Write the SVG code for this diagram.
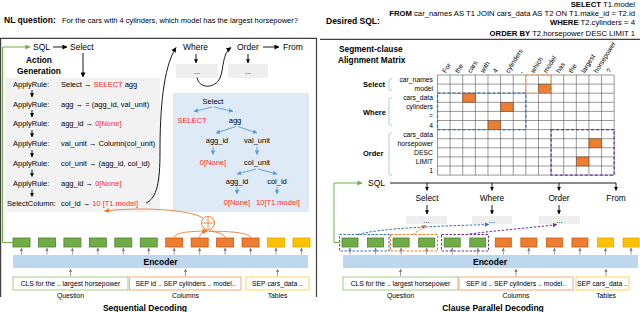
<svg xmlns="http://www.w3.org/2000/svg" width="640" height="312" viewBox="0 0 640 312">
<defs>
<style>
text{font-family:"Liberation Sans",Arial,sans-serif;fill:#000}
.b{font-weight:bold}
.red{fill:#ff2b2b}
.s75{font-size:7.5px}
.sq{font-size:7.7px}
.s7{font-size:6.8px}
.s85{font-size:8.5px}
.mid{text-anchor:middle}
.end{text-anchor:end}
.g{fill:#70ad47;stroke:#507e32;stroke-width:0.8}
.o{fill:#ed7d31;stroke:#c55a11;stroke-width:0.8}
.y{fill:#ffc000;stroke:#e0a800;stroke-width:0.8}
.enc{fill:#bdd7ee}
.dots{fill:#eeeeee}
.ln{stroke:#000;stroke-width:0.9;fill:none}
.gr{stroke:#808080;stroke-width:0.8;fill:none}
.bl{stroke:#5b9bd5;stroke-width:0.9;fill:none}
.or{stroke:#ed7d31;stroke-width:0.9;fill:none}
.grn{stroke:#70ad47;stroke-width:1;fill:none}
.grid{stroke:#555;stroke-width:0.6}
.cell{fill:#ed7d31;stroke:#c55a11;stroke-width:0.6}
.brk{stroke:#9dc3e6;stroke-width:0.9;fill:none}
</style>
<marker id="ak" viewBox="0 0 6 6" refX="5.5" refY="3" markerWidth="5" markerHeight="5" markerUnits="userSpaceOnUse" orient="auto"><path d="M0,0L6,3L0,6z" fill="#000"/></marker>
<marker id="aks" viewBox="0 0 6 6" refX="5.5" refY="3" markerWidth="4" markerHeight="4" markerUnits="userSpaceOnUse" orient="auto"><path d="M0,0L6,3L0,6z" fill="#000"/></marker>
<marker id="ag" viewBox="0 0 6 6" refX="5.5" refY="3" markerWidth="5" markerHeight="5" markerUnits="userSpaceOnUse" orient="auto"><path d="M0,0L6,3L0,6z" fill="#70ad47"/></marker>
<marker id="ab" viewBox="0 0 6 6" refX="5.5" refY="3" markerWidth="4.5" markerHeight="4.5" markerUnits="userSpaceOnUse" orient="auto"><path d="M0,0L6,3L0,6z" fill="#5b9bd5"/></marker>
<marker id="ao" viewBox="0 0 6 6" refX="5.5" refY="3" markerWidth="5" markerHeight="5" markerUnits="userSpaceOnUse" orient="auto"><path d="M0,0L6,3L0,6z" fill="#ed7d31"/></marker>
<marker id="agr" viewBox="0 0 6 6" refX="5.5" refY="3" markerWidth="3.5" markerHeight="3.5" markerUnits="userSpaceOnUse" orient="auto"><path d="M0,0L6,3L0,6z" fill="#808080"/></marker>
<marker id="adb" viewBox="0 0 6 6" refX="5.5" refY="3" markerWidth="4.5" markerHeight="4.5" markerUnits="userSpaceOnUse" orient="auto"><path d="M0,0L6,3L0,6z" fill="#2e75b6"/></marker>
<marker id="ap" viewBox="0 0 6 6" refX="5.5" refY="3" markerWidth="4.5" markerHeight="4.5" markerUnits="userSpaceOnUse" orient="auto"><path d="M0,0L6,3L0,6z" fill="#7030a0"/></marker>
</defs>
<rect width="640" height="312" fill="#fff"/>

<!-- Header -->
<g id="header">
<text x="4" y="23" class="b s85">NL question:</text>
<text x="62" y="23" style="font-size:7.5px">For the cars with 4 cylinders, which model has the largest horsepower?</text>
<text x="326" y="24" class="b s85">Desired SQL:</text>
<text x="635" y="6.5" class="end sq"><tspan class="b">SELECT</tspan> T1.model</text>
<text x="635" y="15.5" class="end sq"><tspan class="b">FROM</tspan> car_names AS T1 JOIN cars_data AS T2 ON T1.make_id = T2.id</text>
<text x="635" y="25" class="end sq"><tspan class="b">WHERE</tspan> T2.cylinders = 4</text>
<text x="635" y="36" class="end sq"><tspan class="b">ORDER BY</tspan> T2.horsepower DESC LIMIT 1</text>
</g>

<!-- Panel frames -->
<g id="frames" stroke="#404040" stroke-width="1.2" fill="none">
<path d="M0.6,297 V38.4 H316.5 V297"/>
<path d="M320,39.4 H640"/>
</g>

<!-- ============ LEFT PANEL: Sequential Decoding ============ -->
<g id="action-generation">
<rect x="5" y="78" width="155" height="134" fill="#f2f2f2"/>
<text x="39" y="63" class="b mid" style="font-size:8.3px">Action</text>
<text x="39" y="74" class="b mid" style="font-size:8.3px">Generation</text>
<g class="s75">
<text x="13" y="86.7">ApplyRule:</text><text x="61" y="86.7">Select → <tspan class="red">SELECT</tspan> agg</text>
<text x="13" y="106.5">ApplyRule:</text><text x="61" y="106.5">agg → = (agg_id, val_unit)</text>
<text x="13" y="126.4">ApplyRule:</text><text x="61" y="126.4">agg_id → <tspan class="red">0[None]</tspan></text>
<text x="13" y="146.2">ApplyRule:</text><text x="61" y="146.2">val_unit → Column(col_unit)</text>
<text x="13" y="166">ApplyRule:</text><text x="61" y="166">col_unit → (agg_id, col_id)</text>
<text x="13" y="185.9">ApplyRule:</text><text x="61" y="185.9">agg_id → <tspan class="red">0[None]</tspan></text>
<text x="7" y="205.7">SelectColumn:</text><text x="61" y="205.7">col_id → <tspan class="red">10 [T1.model]</tspan></text>
</g>
</g>

<g id="left-top-sql">
<text x="33" y="50" class="s85">SQL</text>
<text x="70" y="50" class="s85">Select</text>
<text x="183" y="50" class="s85">Where</text>
<text x="237" y="50" class="s85">Order</text>
<text x="283" y="50" class="s85">From</text>
<rect x="176" y="64" width="42" height="14" class="dots"/>
<text x="197" y="74" class="mid s75">...</text>
<rect x="228" y="64" width="40" height="14" class="dots"/>
<text x="248" y="74" class="mid s75">...</text>
</g>

<g id="ast-tree">
<rect x="173" y="93" width="136" height="119" fill="#deebf7"/>
<g class="s75">
<text x="213" y="103.7" class="mid">Select</text>
<text x="192" y="123" class="mid red">SELECT</text>
<text x="235" y="123" class="mid">agg</text>
<text x="217" y="143" class="mid">agg_id</text>
<text x="257" y="143" class="mid">val_unit</text>
<text x="213" y="165" class="mid red">0[None]</text>
<text x="257" y="165" class="mid">col_unit</text>
<text x="237" y="183.5" class="mid">agg_id</text>
<text x="277" y="183.5" class="mid">col_id</text>
<text x="237" y="205" class="mid red">0[None]</text>
<text x="278" y="205" class="mid red">10[T1.model]</text>
</g>
</g>

<g id="left-encoder">
<rect x="13" y="255" width="295" height="13" class="enc"/>
<text x="160.5" y="264.5" class="b mid s85">Encoder</text>
<rect x="13" y="277" width="115" height="13" fill="#fff" stroke="#a9d18e" stroke-width="1.1"/>
<text x="70.5" y="286" class="mid s7">CLS for the .. largest horsepower</text>
<rect x="129.5" y="277" width="111.5" height="13" fill="#fff" stroke="#f4b183" stroke-width="1.1"/>
<text x="185.5" y="286" class="mid s7">SEP id .. SEP cylinders .. model..</text>
<rect x="246" y="277" width="63" height="13" fill="#fff" stroke="#ffd966" stroke-width="1.1"/>
<text x="277.5" y="286" class="mid s7">SEP cars_data ..</text>
<text x="70.5" y="298" class="mid s7">Question</text>
<text x="185.5" y="298" class="mid s7">Columns</text>
<text x="277.5" y="298" class="mid s7">Tables</text>
<text x="145" y="310.5" class="b mid s85">Sequential Decoding</text>
</g>

<g id="left-tokens">
<rect x="13" y="238" width="17" height="9" class="g"/>
<rect x="38.45" y="238" width="17" height="9" class="g"/>
<rect x="63.9" y="238" width="17" height="9" class="g"/>
<rect x="89.35" y="238" width="17" height="9" class="g"/>
<rect x="114.8" y="238" width="17" height="9" class="g"/>
<rect x="140.25" y="238" width="17" height="9" class="g"/>
<rect x="165.7" y="238" width="17" height="9" class="o"/>
<rect x="191.15" y="238" width="17" height="9" class="o"/>
<rect x="216.6" y="238" width="17" height="9" class="o"/>
<rect x="242.05" y="238" width="17" height="9" class="o"/>
<rect x="267.5" y="238" width="17" height="9" class="y"/>
<rect x="292.95" y="238" width="17" height="9" class="y"/>
</g>

<g id="pointer">
<circle cx="208" cy="223" r="6.5" fill="#fff" stroke="#ed7d31" stroke-width="1"/>
<path d="M208,217.5V228.5M202.5,223H213.5" stroke="#ed7d31" stroke-width="0.9"/>
</g>

<!-- ============ RIGHT PANEL: Clause Parallel Decoding ============ -->
<g id="matrix">
<text x="339" y="52" class="b" style="font-size:8.3px">Segment-clause</text>
<text x="338" y="63" class="b" style="font-size:8.3px">Alignment Matrix</text>
<g class="s7">
<text transform="translate(445.8,73.5) rotate(-58)">For</text>
<text transform="translate(458.4,73.5) rotate(-58)">the</text>
<text transform="translate(471,73.5) rotate(-58)">cars</text>
<text transform="translate(483.7,73.5) rotate(-58)">with</text>
<text transform="translate(496.3,73.5) rotate(-58)">4</text>
<text transform="translate(508.9,73.5) rotate(-58)">cylinders</text>
<text transform="translate(521.5,73.5) rotate(-58)">,</text>
<text transform="translate(534.1,73.5) rotate(-58)">which</text>
<text transform="translate(546.8,73.5) rotate(-58)">model</text>
<text transform="translate(559.4,73.5) rotate(-58)">has</text>
<text transform="translate(572,73.5) rotate(-58)">the</text>
<text transform="translate(584.6,73.5) rotate(-58)">largest</text>
<text transform="translate(597.2,73.5) rotate(-58)">horsepower</text>
<text transform="translate(609.9,73.5) rotate(-58)">?</text>
</g>
<g class="s7 end">
<text x="433" y="82">car_names</text>
<text x="433" y="91.1">model</text>
<text x="433" y="100.2">cars_data</text>
<text x="433" y="109.3">cylinders</text>
<text x="433" y="118.4">=</text>
<text x="433" y="127.5">4</text>
<text x="433" y="136.6">cars_data</text>
<text x="433" y="145.7">horsepower</text>
<text x="433" y="154.8">DESC</text>
<text x="433" y="163.9">LIMIT</text>
<text x="433" y="173">1</text>
</g>
<g class="b" style="font-size:7.5px">
<text x="363" y="87">Select</text>
<text x="363" y="115">Where</text>
<text x="363" y="156">Order</text>
</g>
<path class="brk" d="M392,79 H390.5 Q389,79 389,80.5 V88.5 Q389,90 390.5,90 H392"/>
<path class="brk" d="M392,98 H390.5 Q389,98 389,99.5 V123.5 Q389,125 390.5,125 H392"/>
<path class="brk" d="M392,133 H390.5 Q389,133 389,134.5 V173.5 Q389,175 390.5,175 H392"/>
<g>
<rect x="538.46" y="84.1" width="12.62" height="9.1" class="cell"/>
<rect x="462.74" y="93.2" width="12.62" height="9.1" class="cell"/>
<rect x="500.6" y="102.3" width="12.62" height="9.1" class="cell"/>
<rect x="487.98" y="120.5" width="12.62" height="9.1" class="cell"/>
<rect x="588.94" y="138.7" width="12.62" height="9.1" class="cell"/>
<rect x="576.32" y="156.9" width="12.62" height="9.1" class="cell"/>
</g>
<g class="grid">
<path d="M437.5,75H614.18M437.5,84.1H614.18M437.5,93.2H614.18M437.5,102.3H614.18M437.5,111.4H614.18M437.5,120.5H614.18M437.5,129.6H614.18M437.5,138.7H614.18M437.5,147.8H614.18M437.5,156.9H614.18M437.5,166H614.18M437.5,175.1H614.18"/>
<path d="M437.5,75V175.1M450.12,75V175.1M462.74,75V175.1M475.36,75V175.1M487.98,75V175.1M500.6,75V175.1M513.22,75V175.1M525.84,75V175.1M538.46,75V175.1M551.08,75V175.1M563.7,75V175.1M576.32,75V175.1M588.94,75V175.1M601.56,75V175.1M614.18,75V175.1"/>
</g>
<rect x="525.84" y="75" width="25.24" height="18.2" fill="none" stroke="#f4a460" stroke-width="1.3" stroke-dasharray="3,2"/>
<rect x="437.5" y="93.2" width="88.34" height="36.4" fill="none" stroke="#2e75b6" stroke-width="1.3" stroke-dasharray="3,2"/>
<rect x="551.08" y="129.6" width="63.1" height="45.5" fill="none" stroke="#7030a0" stroke-width="1.3" stroke-dasharray="3,2"/>
</g>

<g id="right-clauses">
<text x="368" y="186" class="s85">SQL</text>
<text x="427" y="201" class="mid" style="font-size:8.3px">Select</text>
<text x="492" y="201" class="mid" style="font-size:8.3px">Where</text>
<text x="559" y="201" class="mid" style="font-size:8.3px">Order</text>
<text x="616" y="201" class="mid" style="font-size:8.3px">From</text>
<rect x="406" y="216" width="41" height="8" class="dots"/>
<text x="426.5" y="222.5" class="mid s75">...</text>
<rect x="472" y="216" width="40" height="8" class="dots"/>
<text x="492" y="222.5" class="mid s75">...</text>
<rect x="539" y="216" width="41" height="8" class="dots"/>
<text x="559.5" y="222.5" class="mid s75">...</text>
</g>

<g id="right-encoder">
<rect x="343" y="255" width="295" height="13" class="enc"/>
<text x="490" y="264.5" class="b mid s85">Encoder</text>
<rect x="343" y="277" width="115" height="13" fill="#fff" stroke="#a9d18e" stroke-width="1.1"/>
<text x="400.5" y="286" class="mid s7">CLS for the .. largest horsepower</text>
<rect x="459" y="277" width="114" height="13" fill="#fff" stroke="#f4b183" stroke-width="1.1"/>
<text x="516" y="286" class="mid s7">SEP id .. SEP cylinders .. model..</text>
<rect x="576" y="277" width="53" height="13" fill="#fff" stroke="#ffd966" stroke-width="1.1"/>
<text x="602.5" y="286" class="mid s7">SEP cars_data ..</text>
<text x="400.5" y="298" class="mid s7">Question</text>
<text x="516" y="298" class="mid s7">Columns</text>
<text x="606" y="298" class="mid s7">Tables</text>
<text x="493" y="310.5" class="b mid s85">Clause Parallel Decoding</text>
</g>

<g id="right-tokens">
<rect x="342" y="238" width="16" height="9" class="g"/>
<rect x="367.55" y="238" width="16" height="9" class="g"/>
<rect x="393.1" y="238" width="16" height="9" class="g"/>
<rect x="418.65" y="238" width="16" height="9" class="g"/>
<rect x="444.2" y="238" width="16" height="9" class="g"/>
<rect x="469.75" y="238" width="16" height="9" class="g"/>
<rect x="495.3" y="238" width="16" height="9" class="o"/>
<rect x="520.85" y="238" width="16" height="9" class="o"/>
<rect x="546.4" y="238" width="16" height="9" class="o"/>
<rect x="571.95" y="238" width="16" height="9" class="o"/>
<rect x="597.5" y="238" width="16" height="9" class="y"/>
<rect x="623.05" y="238" width="16" height="9" class="y"/>
<rect x="339.5" y="234.5" width="49.5" height="16.5" fill="none" stroke="#2e75b6" stroke-width="1.1" stroke-dasharray="2.5,1.5"/>
<rect x="390.5" y="234.5" width="47" height="16.5" fill="none" stroke="#ed7d31" stroke-width="1.1" stroke-dasharray="2.5,1.5"/>
<rect x="441.5" y="234.5" width="47" height="16.5" fill="none" stroke="#7030a0" stroke-width="1.1" stroke-dasharray="2.5,1.5"/>
</g>

<!-- ============ CONNECTORS ============ -->
<g id="connectors">
<!-- left top -->
<path class="grn" d="M13,242.5 H2.5 V47 H30" marker-end="url(#ag)"/>
<path class="ln" d="M53,47 H67" marker-end="url(#ak)"/>
<path class="ln" d="M263,47 H279" marker-end="url(#ak)"/>
<path class="ln" d="M83,53 V77" marker-end="url(#ak)"/>
<path class="ln" d="M196,54 V63" marker-end="url(#aks)"/>
<path class="ln" d="M248,54 V63" marker-end="url(#aks)"/>
<path class="ln" d="M146,203 C157,198 160,182 160,152 C160,110 163,68 176,47.5" marker-end="url(#ak)"/>
<path class="ln" d="M197,77.5 C199,89 215,89 220,78 C224,68 222,54 231,47.5" marker-end="url(#ak)"/>
<!-- rule chain arrows -->
<g class="ln">
<path d="M32,90 V97" marker-end="url(#aks)"/>
<path d="M32,110 V117" marker-end="url(#aks)"/>
<path d="M32,130 V137" marker-end="url(#aks)"/>
<path d="M32,150 V157" marker-end="url(#aks)"/>
<path d="M32,169.5 V176.5" marker-end="url(#aks)"/>
<path d="M32,189.5 V196.5" marker-end="url(#aks)"/>
</g>
<!-- tree arrows -->
<g class="bl">
<path d="M212,107 L194,111.5" marker-end="url(#ab)"/>
<path d="M214,107 L233,111.5" marker-end="url(#ab)"/>
<path d="M236,126.5 L216,133" marker-end="url(#ab)"/>
<path d="M238,126.5 L257,133" marker-end="url(#ab)"/>
<path d="M213,146.5 V154.5" marker-end="url(#ab)"/>
<path d="M257,146.5 V154.5" marker-end="url(#ab)"/>
<path d="M256,169 L237,174" marker-end="url(#ab)"/>
<path d="M258,169 L277,174" marker-end="url(#ab)"/>
<path d="M237,187 V194" marker-end="url(#ab)"/>
<path d="M277,187 V194" marker-end="url(#ab)"/>
</g>
<!-- pointer network (orange) -->
<g class="or">
<path d="M174.2,238 C174.2,232 190,231.5 207,231" marker-end="url(#ao)"/>
<path d="M199.65,238 C199.65,233 203,231.5 207.5,231" marker-end="url(#ao)"/>
<path d="M225.1,238 C225.1,233 213,231.5 208.5,231"/>
<path d="M250.55,238 C250.55,232 226,231.5 209,231"/>
<path d="M203,218 C188,209 140,207 104.5,211" marker-end="url(#ao)"/>
</g>
<!-- left encoder gray arrows -->
<g class="gr">
<path d="M21.5,254.5V248" marker-end="url(#agr)"/>
<path d="M46.95,254.5V248" marker-end="url(#agr)"/>
<path d="M72.4,254.5V248" marker-end="url(#agr)"/>
<path d="M97.85,254.5V248" marker-end="url(#agr)"/>
<path d="M123.3,254.5V248" marker-end="url(#agr)"/>
<path d="M148.75,254.5V248" marker-end="url(#agr)"/>
<path d="M174.2,254.5V248" marker-end="url(#agr)"/>
<path d="M199.65,254.5V248" marker-end="url(#agr)"/>
<path d="M225.1,254.5V248" marker-end="url(#agr)"/>
<path d="M250.55,254.5V248" marker-end="url(#agr)"/>
<path d="M276,254.5V248" marker-end="url(#agr)"/>
<path d="M301.45,254.5V248" marker-end="url(#agr)"/>
<path d="M70.5,276V269" marker-end="url(#agr)"/>
<path d="M185.5,276V269" marker-end="url(#agr)"/>
<path d="M277.5,276V269" marker-end="url(#agr)"/>
</g>
<!-- right panel -->
<path class="grn" d="M339.5,242.5 H334 V183 H362" marker-end="url(#ag)"/>
<path class="ln" d="M390,183 H616"/>
<g class="ln">
<path d="M427,183 V190.5" marker-end="url(#aks)"/>
<path d="M492,183 V190.5" marker-end="url(#aks)"/>
<path d="M559,183 V190.5" marker-end="url(#aks)"/>
<path d="M616,183 V190.5" marker-end="url(#aks)"/>
<path d="M427,205 V214" marker-end="url(#aks)"/>
<path d="M492,205 V214" marker-end="url(#aks)"/>
<path d="M559,205 V214" marker-end="url(#aks)"/>
</g>
<path d="M413,234.5 L426,225" fill="none" stroke="#ed7d31" stroke-width="1" stroke-dasharray="2.5,1.5" marker-end="url(#ao)"/>
<path d="M358,234.5 C380,228 440,226 489,224.5" fill="none" stroke="#2e75b6" stroke-width="1" stroke-dasharray="2.5,1.5" marker-end="url(#adb)"/>
<path d="M466,234.5 C490,231 530,228 557,224.5" fill="none" stroke="#7030a0" stroke-width="1" stroke-dasharray="2.5,1.5" marker-end="url(#ap)"/>
<g class="gr">
<path d="M350,254.5V248" marker-end="url(#agr)"/>
<path d="M375.55,254.5V248" marker-end="url(#agr)"/>
<path d="M401.1,254.5V248" marker-end="url(#agr)"/>
<path d="M426.65,254.5V248" marker-end="url(#agr)"/>
<path d="M452.2,254.5V248" marker-end="url(#agr)"/>
<path d="M477.75,254.5V248" marker-end="url(#agr)"/>
<path d="M503.3,254.5V248" marker-end="url(#agr)"/>
<path d="M528.85,254.5V248" marker-end="url(#agr)"/>
<path d="M554.4,254.5V248" marker-end="url(#agr)"/>
<path d="M579.95,254.5V248" marker-end="url(#agr)"/>
<path d="M605.5,254.5V248" marker-end="url(#agr)"/>
<path d="M631.05,254.5V248" marker-end="url(#agr)"/>
<path d="M400.5,276V269" marker-end="url(#agr)"/>
<path d="M516,276V269" marker-end="url(#agr)"/>
<path d="M606,276V269" marker-end="url(#agr)"/>
</g>
</g>
</svg>
